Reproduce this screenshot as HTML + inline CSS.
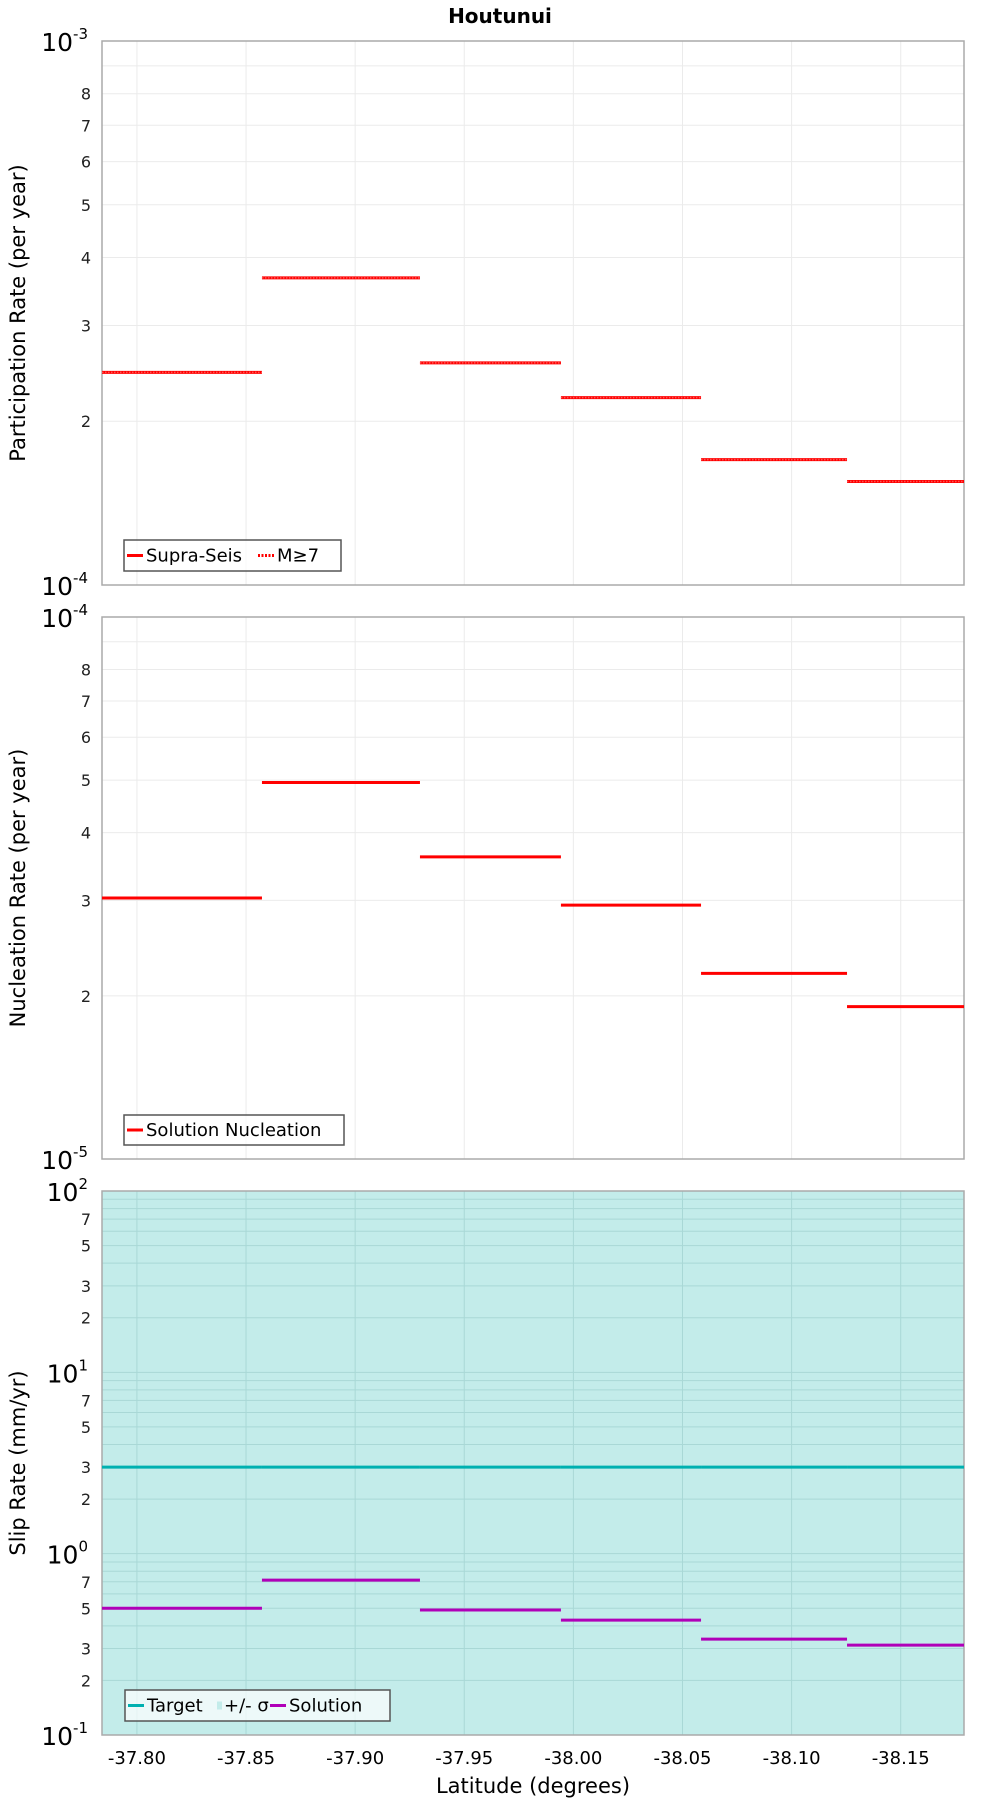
<!DOCTYPE html>
<html><head><meta charset="utf-8"><style>
html,body{margin:0;padding:0;background:#fff;}
svg{display:block;font-family:"DejaVu Sans","Liberation Sans",sans-serif;}
</style></head><body>
<svg id="c" width="1000" height="1800" viewBox="0 0 1000 1800" xmlns="http://www.w3.org/2000/svg">
<text x="500" y="23" text-anchor="middle" font-size="20" font-weight="bold">Houtunui</text>
</svg>
<script>
const boundaries = [-37.784, -37.8573, -37.9297, -37.9943, -38.0585, -38.1254, -38.179];
const participation = [2.46e-4, 3.67e-4, 2.56e-4, 2.21e-4, 1.70e-4, 1.55e-4];
const nucleation = [3.03e-5, 4.95e-5, 3.61e-5, 2.94e-5, 2.20e-5, 1.91e-5];
const slipTarget = [3.0, 3.0, 3.0, 3.0, 3.0, 3.0];
const slipSolution = [0.50, 0.715, 0.489, 0.43, 0.338, 0.313];
const xTicks = [-37.80, -37.85, -37.90, -37.95, -38.00, -38.05, -38.10, -38.15];
const xTickLabels = ["-37.80","-37.85","-37.90","-37.95","-38.00","-38.05","-38.10","-38.15"];

const svg = document.getElementById('c');
const NS = 'http://www.w3.org/2000/svg';
function mk(tag, attrs, parent){
  const e = document.createElementNS(NS, tag);
  for (const k in attrs) e.setAttribute(k, attrs[k]);
  (parent||svg).appendChild(e);
  return e;
}
const L = 102, R = 964;
const xDom = [boundaries[0], boundaries[boundaries.length-1]];
function xs(v){ return L + (xDom[0]-v)/(xDom[0]-xDom[1])*(R-L); }

function panel(name, top, bottom, lo, hi, ylabel, minorLabels, opts){
  const g = mk('g', {});
  
  
  const dlo = Math.log10(lo), dhi = Math.log10(hi);
  const ys = v => bottom - (Math.log10(v)-dlo)/(dhi-dlo)*(bottom-top);
  if (opts.fill){
    const bg = mk('rect', {x:L, y:top, width:R-L, height:bottom-top, fill:opts.fill}, g);
    
    
  }
  const gc = opts.fill ? '#a9d8d6' : '#ebebeb';
  for (let d = dlo; d < dhi; d++){
    for (let m = 2; m <= 9; m++){
      const v = m*Math.pow(10,d), y = ys(v);
      mk('line', {x1:L, x2:R, y1:y, y2:y, stroke:gc, 'stroke-width':1}, g);
      if (minorLabels.includes(m)){
        const t = mk('text', {x:L-11, y:y+6, 'text-anchor':'end', 'font-size':16, fill:'#222'}, g);
        t.textContent = m;
        
        
      }
    }
  }
  for (let d = dlo; d <= dhi; d++){
    const y = ys(Math.pow(10,d));
    if (d>dlo && d<dhi) mk('line', {x1:L, x2:R, y1:y, y2:y, stroke:gc, 'stroke-width':1}, g);
    const t = mk('text', {x:L-14, y:y+10, 'text-anchor':'end', 'font-size':25}, g);
    t.innerHTML = '10<tspan dy="-12" font-size="15">' + d + '</tspan>';
    
    
  }
  xTicks.forEach(v=>{
    const x = xs(v);
    mk('line', {x1:x, x2:x, y1:top, y2:bottom, stroke:gc, 'stroke-width':1}, g);
  });
  const yl = mk('text', {x:0, y:0, transform:`translate(25,${(top+bottom)/2}) rotate(-90)`, 'text-anchor':'middle', 'font-size':21}, g);
  yl.textContent = ylabel;
  
  
  const fr = mk('rect', {x:L, y:top, width:R-L, height:bottom-top, fill:'none', stroke:'#aaa', 'stroke-width':1.5}, g);
  
  
  return {g, ys};
}

function steps(p, vals, color, name, dotted){
  vals.forEach((v,i)=>{
    const y = p.ys(v);
    const ln = mk('line', {x1:xs(boundaries[i]), x2:xs(boundaries[i+1]), y1:y, y2:y, stroke:color, 'stroke-width':3}, p.g);
    
    
    if (dotted){
      const d = mk('line', {x1:xs(boundaries[i]), x2:xs(boundaries[i+1]), y1:y, y2:y, stroke:'#ff5555', 'stroke-width':1.5, 'stroke-dasharray':'1.5 1.5'}, p.g);
      
      
    }
  });
}

function legend(p, x, y, w, h, items){
  const g = mk('g', {}, p.g);
  
  
  mk('rect', {x, y, width:w, height:h, fill:'rgba(255,255,255,0.7)', stroke:'#555', 'stroke-width':1.5}, g);
  let cx = x + 3;
  items.forEach(it=>{
    const my = y + h/2;
    if (it.type==='band') mk('rect', {x:cx+2, y:my-4, width:5, height:8, fill:it.color}, g);
    else mk('line', {x1:cx, x2:cx+16, y1:my, y2:my, stroke:it.color, 'stroke-width':3, 'stroke-dasharray':it.dash||''}, g);
    const t = mk('text', {x:cx+(it.type==='band'?9:19), y:my+6, 'font-size':18}, g);
    t.textContent = it.label;
    
    
    cx += (it.type==='band'?9:19) + it.w;
  });
}

const p1 = panel('participation-panel', 41, 585, 1e-4, 1e-3, 'Participation Rate (per year)', [2,3,4,5,6,7,8], {});
steps(p1, participation, '#ff0000', 'participation', true);
legend(p1, 124, 540, 217, 31, [{color:'#f00',label:'Supra-Seis',w:112},{color:'#f00',dash:'2 1.5',label:'M≥7',w:50}]);

const p2 = panel('nucleation-panel', 617, 1159, 1e-5, 1e-4, 'Nucleation Rate (per year)', [2,3,4,5,6,7,8], {});
steps(p2, nucleation, '#ff0000', 'nucleation', false);
legend(p2, 124, 1115, 220, 30, [{color:'#f00',label:'Solution Nucleation',w:190}]);

const p3 = panel('slip-panel', 1191, 1735, 0.1, 100, 'Slip Rate (mm/yr)', [2,3,5,7], {fill:'#c3ecea'});
steps(p3, slipTarget, '#00b0b0', 'slip-target', false);
steps(p3, slipSolution, '#b000b8', 'slip-solution', false);
legend(p3, 125, 1690, 265, 31, [{color:'#00b0b0',label:'Target',w:68},{type:'band',color:'#c3ecea',label:'+/- σ',w:46},{color:'#b000b8',label:'Solution',w:80}]);

xTicks.forEach((v,i)=>{
  const t = mk('text', {x:xs(v), y:1764, 'text-anchor':'middle', 'font-size':18});
  t.textContent = xTickLabels[i];
  
  
});
const xt = mk('text', {x:(L+R)/2, y:1793, 'text-anchor':'middle', 'font-size':21});
xt.textContent = 'Latitude (degrees)';


</script>
</body></html>
